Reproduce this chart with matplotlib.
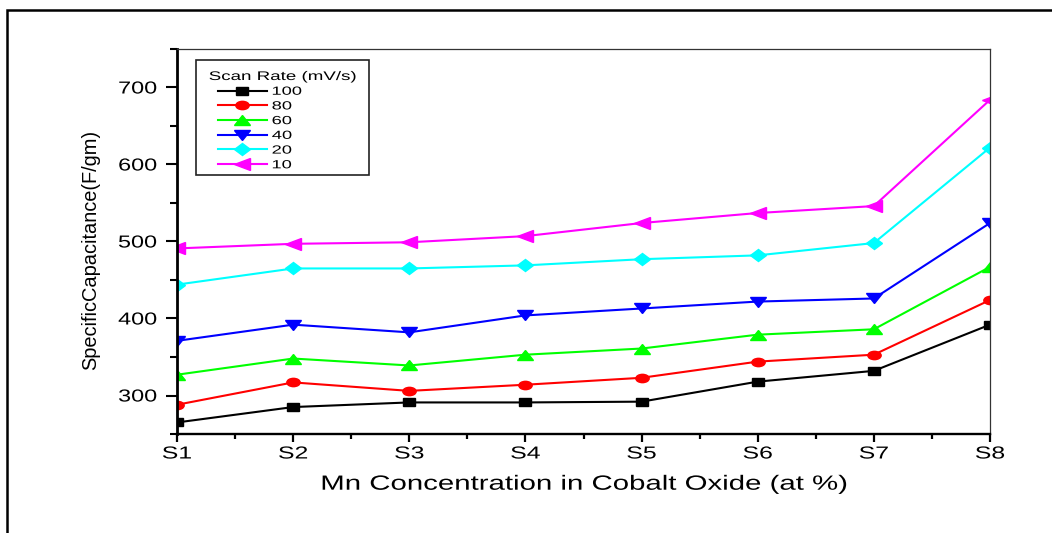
import numpy as np
import matplotlib.pyplot as plt
from matplotlib.patches import Rectangle
from matplotlib.markers import MarkerStyle
from matplotlib.patheffects import AbstractPathEffect
from matplotlib.transforms import Affine2D
from matplotlib.ticker import MultipleLocator, FixedLocator

plt.rcParams['font.family'] = ['Liberation Sans', 'DejaVu Sans']

samples = ['S1', 'S2', 'S3', 'S4', 'S5', 'S6', 'S7', 'S8']
rate_100 = [265, 285, 291, 291, 292, 318, 332, 392]
rate_80 = [288, 317, 306, 314, 323, 344, 353, 424]
rate_60 = [327, 348, 339, 353, 361, 379, 386, 467]
rate_40 = [371, 392, 382, 404, 413, 422, 426, 524]
rate_20 = [444, 465, 465, 469, 477, 482, 498, 622]
rate_10 = [491, 497, 499, 507, 524, 537, 546, 684]

# label, values, colour, marker, size, horizontal squash of the marker
series = [
    ('100', rate_100, 'black', 's', 5.5, 1.65),
    ('80', rate_80, 'red', 'o', 6.0, 1.6),
    ('60', rate_60, '#00ff00', '^', 6.5, 1.7),
    ('40', rate_40, 'blue', 'v', 7.0, 1.7),
    ('20', rate_20, 'cyan', 'D', 6.0, 1.3),
    ('10', rate_10, 'magenta', '<', 8.0, 1.4),
]


class Stretch(AbstractPathEffect):
    """Widen text horizontally (the source picture is stretched sideways)."""
    def __init__(self, sx, anchor='center', dx=0):
        super().__init__()
        self.sx = sx
        self.anchor = anchor
        self.dx = dx

    def draw_path(self, renderer, gc, tpath, affine, rgbFace=None):
        ext = tpath.get_extents(affine)
        if self.anchor == 'left':
            x0 = ext.x0
        elif self.anchor == 'right':
            x0 = ext.x1
        else:
            x0 = 0.5 * (ext.x0 + ext.x1)
        tr = affine + Affine2D().translate(-x0, 0).scale(self.sx, 1).translate(x0 + self.dx, 0)
        renderer.draw_path(gc, tpath, tr, rgbFace)


fig = plt.figure(figsize=(10.52, 5.33), dpi=100)
ax = fig.add_axes([177 / 1052, 1 - 434 / 533, 813 / 1052, 385 / 533])

x = np.arange(len(samples))
for name, vals, col, mk, ms, sq in series:
    style = MarkerStyle(mk, transform=Affine2D().scale(sq, 1))
    ax.plot(x, vals, color=col, marker=style, markersize=ms, linewidth=1.5,
            label=name)

ax.set_xlim(0, len(samples) - 1)
ax.set_ylim(250, 750)
ax.set_xticks(x)
ax.set_xticklabels(samples)
ax.xaxis.set_minor_locator(MultipleLocator(0.5))
ax.set_yticks([300, 400, 500, 600, 700])
ax.yaxis.set_minor_locator(FixedLocator([250, 350, 450, 550, 650, 750]))

ax.tick_params(axis='x', which='major', direction='out', length=5.5,
               width=1.6, labelsize=12.5, pad=3.5)
ax.tick_params(axis='x', which='minor', direction='out', length=3.5, width=1.6)
ax.tick_params(axis='y', which='major', direction='out', length=8,
               width=1.5, labelsize=12.5, pad=6.5)
ax.tick_params(axis='y', which='minor', direction='out', length=5, width=1.5)

for lbl in ax.get_xticklabels():
    lbl.set_path_effects([Stretch(1.43, 'center')])
for lbl in ax.get_yticklabels():
    lbl.set_path_effects([Stretch(1.35, 'right')])

ax.spines['left'].set_linewidth(2.0)
ax.spines['bottom'].set_linewidth(1.7)
for side in ['top', 'right']:
    ax.spines[side].set_linewidth(0.9)
    ax.spines[side].set_color('#333333')

xl = ax.set_xlabel('Mn Concentration in Cobalt Oxide (at %)', fontsize=14.8,
                   labelpad=9.5)
xl.set_path_effects([Stretch(1.43, 'center')])
ax.set_ylabel('SpecificCapacitance(F/gm)', fontsize=14.4)
ax.yaxis.set_label_coords(-0.0947, 0.478)

leg = ax.legend(title='Scan Rate (mV/s)', loc='upper left',
                bbox_to_anchor=(218 / 1052, 1 - 71 / 533),
                bbox_transform=fig.transFigure, fontsize=8.5,
                title_fontsize=9, frameon=False, handlelength=4.15,
                handletextpad=0.42, labelspacing=0.23, borderpad=0,
                borderaxespad=0)
leg._legend_box.align = 'left'
leg.get_title().set_path_effects([Stretch(1.5, 'left', dx=-9)])
for t in leg.get_texts():
    t.set_path_effects([Stretch(1.55, 'left')])

# legend frame, drawn by hand because the text is widened
fig.patches.append(Rectangle((196 / 1052, 1 - 175 / 533), 173 / 1052, 115 / 533,
                             transform=fig.transFigure, fill=False,
                             edgecolor='#222222', linewidth=1.2))

# outer frame round the whole graph
fig.patches.append(Rectangle((7 / 1052, -0.1), 1.2, 1 - 10.5 / 533 + 0.1,
                             transform=fig.transFigure, fill=False,
                             edgecolor='black', linewidth=1.8))

fig.savefig('out.png', dpi=100)
